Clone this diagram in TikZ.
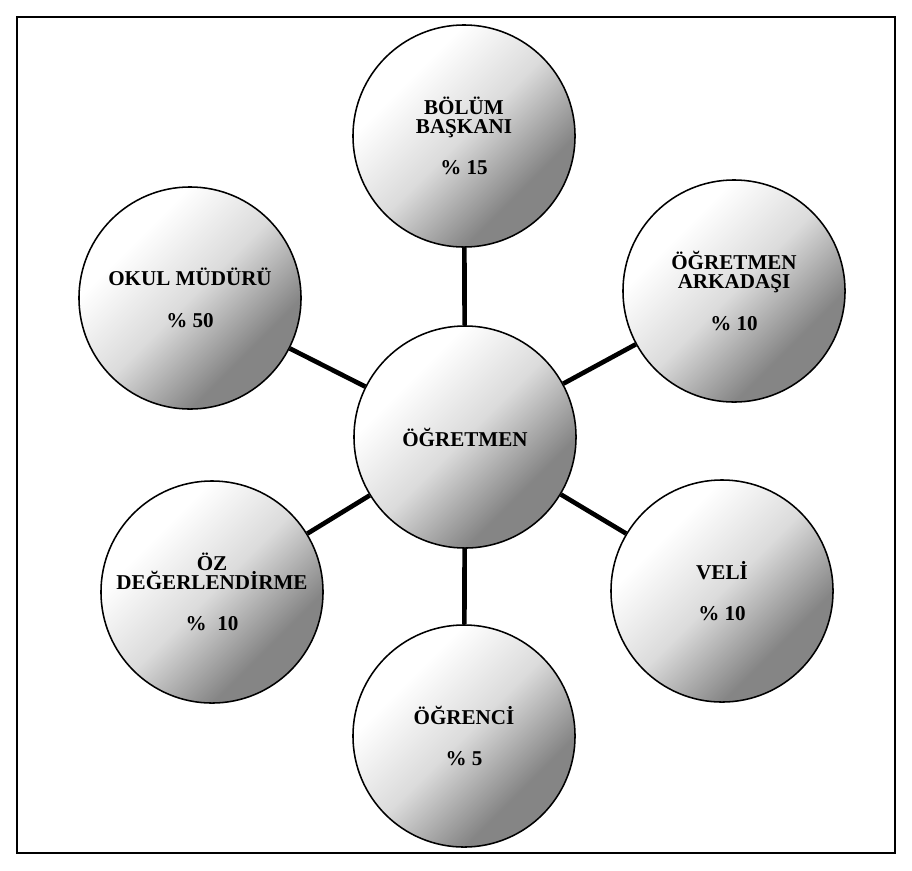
\documentclass[tikz,border=0pt]{standalone}
\usepackage{fontspec}
\setmainfont{Liberation Serif}

\pgfdeclareverticalshading{ballshade}{100bp}{color(0bp)=(black!48); color(32bp)=(black!48);
  color(50bp)=(black!14); color(68bp)=(white); color(100bp)=(white)}

\begin{document}
\begin{tikzpicture}[x=0.025cm,y=-0.025cm]
\useasboundingbox (0,0) rectangle (912,870);
\draw[line width=0.8pt] (17,17) rectangle (895,853);

\begin{scope}[every node/.style={circle,draw,line width=1.1pt,minimum size=5.55cm,inner sep=0pt,align=center,
    shade,shading=ballshade,shading angle=45,
    font=\bfseries\fontsize{15}{13.5}\selectfont}]
\node (ogretmen) at (465,437) {ÖĞRETMEN};
\node (bolum) at (464,136) {BÖLÜM\\BAŞKANI\\[16pt]\% 15};
\node (arkadas) at (734,291) {ÖĞRETMEN\\ARKADAŞI\\[16pt]\% 10};
\node (veli) at (722,591) {VELİ\\[16pt]\% 10};
\node (ogrenci) at (464,736) {ÖĞRENCİ\\[16pt]\% 5};
\node (oz) at (212,592) {ÖZ\\DEĞERLENDİRME\\[16pt]\%\ \ 10};
\node (mudur) at (190,298) {OKUL MÜDÜRÜ\\[16pt]\% 50};
\end{scope}

\begin{scope}[line width=3.3pt]
\path (ogretmen) edge (bolum);
\path (ogretmen) edge (arkadas);
\path (ogretmen) edge (veli);
\path (ogretmen) edge (ogrenci);
\path (ogretmen) edge (oz);
\path (ogretmen) edge (mudur);
\end{scope}
\end{tikzpicture}
\end{document}
